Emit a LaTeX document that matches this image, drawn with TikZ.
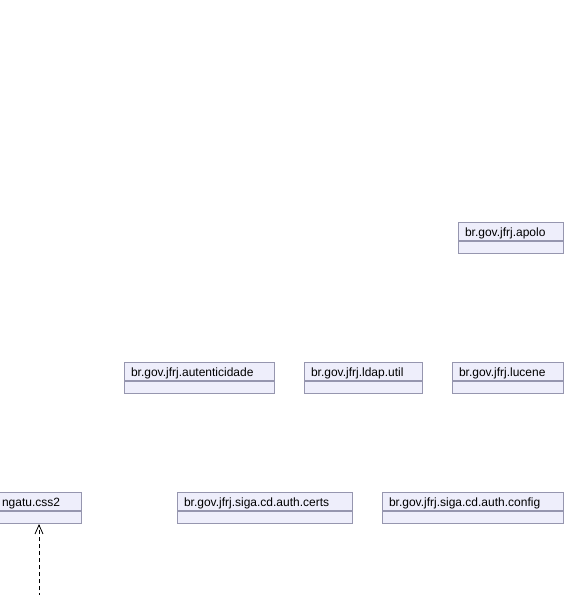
\documentclass[tikz,border=0pt]{standalone}
\usepackage{fontspec}
\setmainfont{Liberation Sans}
\usetikzlibrary{arrows.meta}
\definecolor{pkgfill}{RGB}{238,238,251}
\definecolor{pkgline}{RGB}{150,150,175}
\tikzset{
  pkghead/.style={draw=pkgline, fill=pkgfill, line width=1pt, anchor=north west,
    minimum height=18pt, inner xsep=6.5pt, inner ysep=0pt, align=left,
    font=\fontsize{12}{14}\selectfont, text height=10.5pt, text depth=0.5pt},
  pkgbody/.style={draw=pkgline, fill=pkgfill, line width=1pt, anchor=north,
    minimum height=12pt, inner sep=0pt},
  dep/.style={draw=black, line width=0.8pt, dash pattern=on 4pt off 3pt,
    -{Straight Barb[length=9pt,width=8pt,line width=0.8pt]}}
}
\begin{document}
\begin{tikzpicture}[x=1pt,y=-1pt]
\useasboundingbox (0,0) rectangle (566,595);
\clip (0,0) rectangle (566,595);
% apolo
\node[pkghead, text width=92pt, minimum width=105pt] (apolo) at (458,222) {br.gov.jfrj.apolo};
\node[pkgbody, minimum width=105pt] (apolob) at (apolo.south) {};
% autenticidade
\node[pkghead, text width=137pt, minimum width=150pt] (aut) at (124,362) {br.gov.jfrj.autenticidade};
\node[pkgbody, minimum width=150pt] (autb) at (aut.south) {};
% ldap.util
\node[pkghead, text width=105pt, minimum width=118pt] (ldap) at (304,362) {br.gov.jfrj.ldap.util};
\node[pkgbody, minimum width=118pt] (ldapb) at (ldap.south) {};
% lucene
\node[pkghead, text width=98pt, minimum width=111pt] (luc) at (452,362) {br.gov.jfrj.lucene};
\node[pkgbody, minimum width=111pt] (lucb) at (luc.south) {};
% css2 (cut at the left edge)
\node[pkghead, text width=73pt, minimum width=86pt] (css) at (-5,492) {ngatu.css2};
\node[pkgbody, minimum width=86pt] (cssb) at (css.south) {};
% certs
\node[pkghead, text width=162pt, minimum width=175pt] (certs) at (177,492) {br.gov.jfrj.siga.cd.auth.certs};
\node[pkgbody, minimum width=175pt] (certsb) at (certs.south) {};
% config
\node[pkghead, text width=168pt, minimum width=181pt] (conf) at (382,492) {br.gov.jfrj.siga.cd.auth.config};
\node[pkgbody, minimum width=181pt] (confb) at (conf.south) {};
% dependency
\coordinate (src) at (39,597);
\draw[dep] (src) -- (src |- cssb.south);
\end{tikzpicture}
\end{document}
